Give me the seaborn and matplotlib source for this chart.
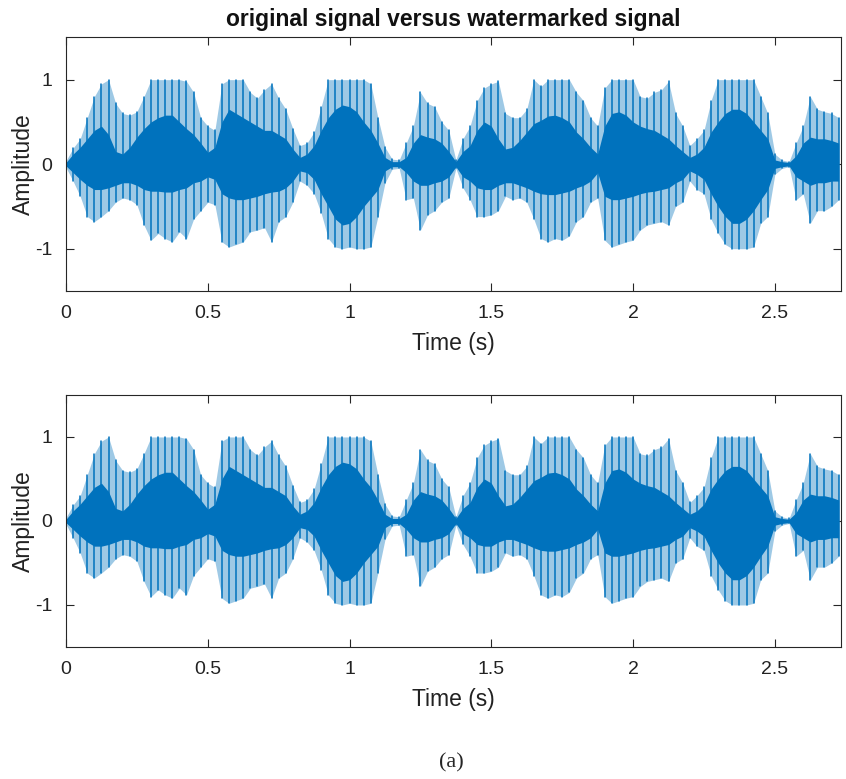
import numpy as np
import pandas as pd
import matplotlib
matplotlib.use('Agg')
import matplotlib.pyplot as plt
import seaborn as sns

# envelope of the signal, every 0.025 s
time_s = np.arange(110) * 0.025

# outer tips of the spikes (upper / lower)
outer_top = [0.04, 0.19, 0.30, 0.55, 0.80, 0.95, 1.00, 0.72, 0.60, 0.58,
             0.62, 0.80, 1.00, 1.00, 1.00, 1.00, 1.00, 0.98, 0.85, 0.55,
             0.45, 0.40, 0.95, 1.00, 1.00, 1.00, 0.85, 0.78, 0.88, 0.95,
             0.78, 0.65, 0.42, 0.22, 0.25, 0.38, 0.68, 1.00, 1.00, 1.00,
             1.00, 1.00, 1.00, 0.95, 0.55, 0.20, 0.06, 0.05, 0.25, 0.45,
             0.85, 0.72, 0.68, 0.50, 0.40, 0.05, 0.30, 0.45, 0.75, 0.90,
             0.95, 0.98, 0.60, 0.55, 0.55, 0.65, 1.00, 0.92, 1.00, 1.00,
             1.00, 1.00, 0.85, 0.75, 0.55, 0.45, 0.90, 1.00, 1.00, 1.00,
             1.00, 0.80, 0.78, 0.85, 0.88, 0.98, 0.60, 0.45, 0.22, 0.30,
             0.40, 0.75, 1.00, 1.00, 1.00, 1.00, 1.00, 1.00, 0.80, 0.60,
             0.12, 0.05, 0.03, 0.25, 0.45, 0.80, 0.65, 0.62, 0.60, 0.55]
outer_bottom = [-0.04, -0.20, -0.38, -0.62, -0.68, -0.62, -0.55, -0.45, -0.40, -0.42,
                -0.48, -0.72, -0.90, -0.82, -0.88, -0.92, -0.80, -0.88, -0.65, -0.55,
                -0.45, -0.48, -0.92, -0.98, -0.95, -0.92, -0.80, -0.78, -0.75, -0.92,
                -0.68, -0.62, -0.45, -0.20, -0.25, -0.35, -0.58, -0.88, -0.98, -1.00,
                -0.98, -1.00, -1.00, -0.98, -0.62, -0.22, -0.06, -0.05, -0.42, -0.40,
                -0.78, -0.60, -0.55, -0.45, -0.40, -0.05, -0.28, -0.42, -0.62, -0.62,
                -0.60, -0.55, -0.38, -0.42, -0.40, -0.45, -0.65, -0.88, -0.92, -0.88,
                -0.90, -0.85, -0.68, -0.62, -0.45, -0.40, -0.90, -0.98, -0.95, -0.92,
                -0.90, -0.78, -0.72, -0.70, -0.68, -0.72, -0.50, -0.45, -0.20, -0.30,
                -0.35, -0.65, -0.82, -0.95, -1.00, -1.00, -1.00, -0.98, -0.70, -0.62,
                -0.12, -0.05, -0.03, -0.42, -0.35, -0.70, -0.55, -0.55, -0.50, -0.42]

# dense solid core of the waveform
core_top = [0.02, 0.12, 0.20, 0.30, 0.40, 0.45, 0.35, 0.15, 0.12, 0.20,
            0.32, 0.42, 0.50, 0.55, 0.58, 0.58, 0.50, 0.42, 0.35, 0.25,
            0.14, 0.20, 0.50, 0.65, 0.60, 0.55, 0.50, 0.45, 0.40, 0.40,
            0.35, 0.30, 0.18, 0.08, 0.12, 0.22, 0.40, 0.55, 0.65, 0.70,
            0.68, 0.62, 0.50, 0.40, 0.25, 0.08, 0.03, 0.03, 0.08, 0.25,
            0.35, 0.32, 0.30, 0.25, 0.15, 0.03, 0.15, 0.22, 0.40, 0.50,
            0.45, 0.30, 0.18, 0.20, 0.28, 0.38, 0.48, 0.52, 0.57, 0.58,
            0.55, 0.50, 0.38, 0.30, 0.20, 0.12, 0.45, 0.60, 0.62, 0.58,
            0.50, 0.45, 0.42, 0.40, 0.35, 0.30, 0.22, 0.15, 0.08, 0.12,
            0.20, 0.38, 0.50, 0.60, 0.65, 0.65, 0.60, 0.50, 0.40, 0.30,
            0.05, 0.03, 0.02, 0.10, 0.25, 0.32, 0.30, 0.30, 0.28, 0.25]
core_bottom = [-0.02, -0.10, -0.18, -0.25, -0.30, -0.30, -0.28, -0.25, -0.22, -0.22,
               -0.25, -0.30, -0.32, -0.32, -0.33, -0.33, -0.30, -0.28, -0.22, -0.20,
               -0.15, -0.18, -0.35, -0.40, -0.42, -0.42, -0.40, -0.38, -0.35, -0.33,
               -0.32, -0.28, -0.20, -0.08, -0.10, -0.18, -0.35, -0.50, -0.65, -0.72,
               -0.70, -0.62, -0.50, -0.40, -0.30, -0.08, -0.03, -0.03, -0.10, -0.20,
               -0.25, -0.25, -0.22, -0.20, -0.15, -0.03, -0.15, -0.20, -0.28, -0.30,
               -0.30, -0.25, -0.22, -0.22, -0.25, -0.28, -0.32, -0.35, -0.36, -0.36,
               -0.34, -0.32, -0.28, -0.25, -0.20, -0.10, -0.38, -0.42, -0.42, -0.40,
               -0.38, -0.35, -0.33, -0.32, -0.30, -0.28, -0.22, -0.18, -0.08, -0.12,
               -0.18, -0.35, -0.50, -0.62, -0.70, -0.70, -0.65, -0.55, -0.42, -0.30,
               -0.05, -0.03, -0.02, -0.15, -0.20, -0.25, -0.22, -0.22, -0.20, -0.20]

# the watermarked signal is indistinguishable from the original at this scale
wm_outer_top = outer_top
wm_outer_bottom = outer_bottom
wm_core_top = core_top
wm_core_bottom = core_bottom

x_ticks = [0, 0.5, 1, 1.5, 2, 2.5]
x_tick_labels = ['0', '0.5', '1', '1.5', '2', '2.5']
y_ticks = [-1, 0, 1]
y_tick_labels = ['-1', '0', '1']

sns.set_theme(style='white')
plt.rcParams['font.family'] = ['Liberation Sans', 'DejaVu Sans']
plt.rcParams['axes.unicode_minus'] = False

blue = '#0072BD'
edge = '#262626'

fig = plt.figure(figsize=(8.46, 7.79), dpi=100)
ax1 = fig.add_axes([0.078, 0.6265, 0.916, 0.3255])
ax2 = fig.add_axes([0.078, 0.1695, 0.916, 0.3235])


def draw_signal(ax, top, bottom, ctop, cbottom):
    # one vertical stroke per reading, from lower tip to upper tip
    spikes = pd.DataFrame({
        't': np.concatenate([time_s, time_s]),
        'amp': np.concatenate([bottom, top]),
        'spike': np.concatenate([np.arange(len(time_s)), np.arange(len(time_s))]),
    })
    ax.fill_between(time_s, bottom, top, color=blue, alpha=0.38, lw=0)
    sns.lineplot(data=spikes, x='t', y='amp', units='spike', estimator=None,
                 color=blue, lw=1.1, ax=ax)
    ax.fill_between(time_s, cbottom, ctop, color=blue, lw=0)

    ax.set_xlim(0, 2.733)
    ax.set_ylim(-1.5, 1.5)
    ax.set_xticks(x_ticks)
    ax.set_xticklabels(x_tick_labels)
    ax.set_yticks(y_ticks)
    ax.set_yticklabels(y_tick_labels)
    ax.tick_params(direction='in', length=5.5, width=0.8, color=edge,
                   labelsize=14, labelcolor='#222222', pad=10,
                   top=True, right=True, bottom=True, left=True)
    for s in ax.spines.values():
        s.set_visible(True)
        s.set_color(edge)
        s.set_linewidth(0.8)
    ax.set_xlabel('Time (s)', fontsize=16.5, color='#222222', labelpad=7)
    ax.set_ylabel('Amplitude', fontsize=16.5, color='#222222', labelpad=0)
    ax.grid(False)


draw_signal(ax1, outer_top, outer_bottom, core_top, core_bottom)
draw_signal(ax2, wm_outer_top, wm_outer_bottom, wm_core_top, wm_core_bottom)

ax1.set_title('original signal versus watermarked signal', fontsize=16.5,
              fontweight='bold', color='#111111', pad=8)

fig.text(0.533, 0.008, '(a)', ha='center', va='bottom', fontsize=16,
         family=['Liberation Serif', 'DejaVu Serif'])

fig.savefig('out.png', dpi=100)
